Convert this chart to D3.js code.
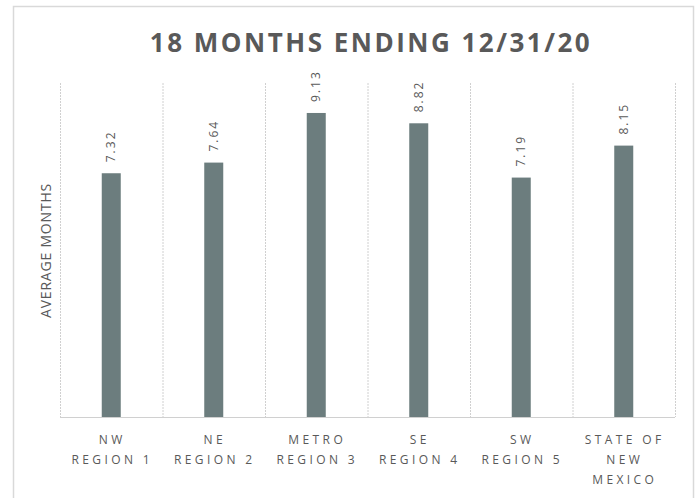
<!DOCTYPE html>
<html>
<head>
<meta charset="utf-8">
<script src="https://d3js.org/d3.v7.min.js"></script>
<style>
  body { margin: 0; background: #fff; }
  text { font-family: "Open Sans", sans-serif; fill: #595959; }
</style>
</head>
<body>
<div id="chart"></div>
<script>
// Data
const regions = [
  ["NW", "REGION 1"],
  ["NE", "REGION 2"],
  ["METRO", "REGION 3"],
  ["SE", "REGION 4"],
  ["SW", "REGION 5"],
  ["STATE OF", "NEW", "MEXICO"],
];
const avgMonths = [7.32, 7.64, 9.13, 8.82, 7.19, 8.15];
const yMax = 10;

const W = 697, H = 498;
let margin = { top: 84, right: 22, bottom: 81, left: 60 },
  width = W - margin.left - margin.right,
  height = H - margin.top - margin.bottom;

let root = d3.select("#chart").append("svg")
  .attr("width", W)
  .attr("height", H);

// outer chart border
root.append("rect")
  .attr("x", 13.5).attr("y", 6.5)
  .attr("width", 680).attr("height", 500)
  .attr("fill", "none")
  .attr("stroke", "#d9d9d9")
  .attr("stroke-width", 1.5);

let svg = root.append("g")
  .attr("transform", `translate(${margin.left},${margin.top})`);

let keys = regions.map((d) => d.join(" "));
let x = d3.scaleBand().domain(keys).range([0, width]);
let y = d3.scaleLinear().domain([0, yMax]).range([height, 0]);

// vertical gridlines between categories
let edges = keys.map((k) => x(k)).concat([width]);
svg.selectAll(".grid")
  .data(edges)
  .enter()
  .append("line")
  .attr("class", "grid")
  .attr("x1", (d) => d + 0.5)
  .attr("x2", (d) => d + 0.5)
  .attr("y1", -1)
  .attr("y2", height)
  .attr("stroke", "#d0d0d0")
  .attr("stroke-width", 1)
  .attr("stroke-dasharray", "2,1");

// baseline
svg.append("line")
  .attr("x1", 0).attr("x2", width)
  .attr("y1", height + 0.5).attr("y2", height + 0.5)
  .attr("stroke", "#d0d0d0");

// bars
let barW = 19;
svg.selectAll(".bar")
  .data(avgMonths)
  .enter()
  .append("rect")
  .attr("class", "bar")
  .attr("x", (d, i) => x(keys[i]) + x.bandwidth() / 2 - barW / 2)
  .attr("y", (d) => y(d))
  .attr("width", barW)
  .attr("height", (d) => height - y(d))
  .attr("fill", "#6c7d7e");

// rotated value labels
svg.selectAll(".val")
  .data(avgMonths)
  .enter()
  .append("text")
  .attr("class", "val")
  .attr("transform", (d, i) => {
    let cx = x(keys[i]) + x.bandwidth() / 2 + 4;
    return `translate(${cx},${y(d) - 11}) rotate(-90)`;
  })
  .style("font-size", "12px")
  .style("letter-spacing", "2px")
  .text((d) => d.toFixed(2));

// x-axis category labels
let xl = svg.selectAll(".xl")
  .data(regions)
  .enter()
  .append("text")
  .attr("class", "xl")
  .attr("text-anchor", "middle")
  .attr("transform", (d, i) => `translate(${x(keys[i]) + x.bandwidth() / 2},${height + 27})`)
  .style("font-size", "12px")
  .style("letter-spacing", "3.4px");

xl.selectAll("tspan")
  .data((d) => d)
  .enter()
  .append("tspan")
  .attr("x", 1)
  .attr("dy", (d, i) => (i === 0 ? 0 : 20))
  .text((d) => d);

// y-axis title
root.append("text")
  .attr("transform", `translate(51,${margin.top + height / 2}) rotate(-90)`)
  .attr("text-anchor", "middle")
  .style("font-size", "14px")
  .style("letter-spacing", "0.8px")
  .text("AVERAGE MONTHS");

// title
root.append("text")
  .attr("x", 371)
  .attr("y", 52)
  .attr("text-anchor", "middle")
  .style("font-size", "26px")
  .style("font-weight", "bold")
  .style("letter-spacing", "2.5px")
  .text("18 MONTHS ENDING 12/31/20");
</script>
</body>
</html>
